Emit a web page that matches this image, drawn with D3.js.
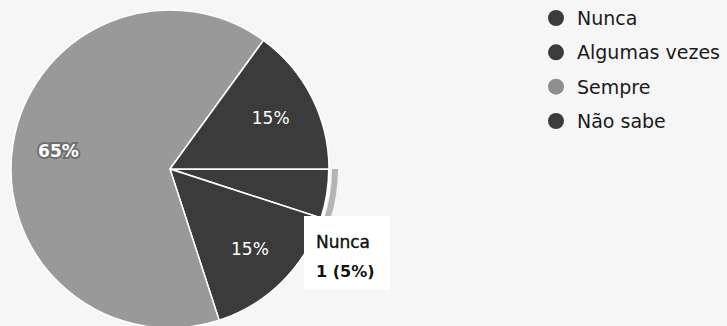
<!DOCTYPE html>
<html>
<head>
<meta charset="utf-8">
<script src="https://cdn.jsdelivr.net/npm/d3@7"></script>
<style>
  html, body { margin: 0; padding: 0; background: #f6f6f6; }
  svg { display: block; }
</style>
</head>
<body>
<svg id="chart" width="727" height="326"></svg>
<script>
const categories = ["Nunca", "Algumas vezes", "Sempre", "Não sabe"];
const counts = [1, 3, 13, 3];
const sliceColors = ["#3b3b3b", "#3b3b3b", "#999999", "#3b3b3b"];
const legendColors = ["#3b3b3b", "#3b3b3b", "#8e8e8e", "#3b3b3b"];
const selectedIndex = 0;

const svg = d3.select("#chart");
const W = 727, H = 326;
svg.append("rect").attr("width", W).attr("height", H).attr("fill", "#f6f6f6");

const cx = 170, cy = 169, R = 159;
const total = d3.sum(counts);
const data = categories.map((c, i) => ({ name: c, value: counts[i], color: sliceColors[i], i }));

const pie = d3.pie().sort(null).value(d => d.value)
  .startAngle(Math.PI / 2).endAngle(Math.PI / 2 + 2 * Math.PI);
const arcs = pie(data);
const arc = d3.arc().innerRadius(0).outerRadius(R);
const labelArc = d3.arc().innerRadius(113).outerRadius(113);
const ringArc = d3.arc().innerRadius(R + 3).outerRadius(R + 9);

const g = svg.append("g").attr("transform", `translate(${cx},${cy})`);

g.selectAll("path.slice").data(arcs).enter().append("path")
  .attr("class", "slice")
  .attr("d", arc)
  .attr("fill", d => d.data.color)
  .attr("stroke", "#ffffff")
  .attr("stroke-width", d => d.data.i === selectedIndex ? 2 : 1.5)
  .attr("stroke-linejoin", "round");

// hover ring around selected slice
g.append("path")
  .datum(arcs[selectedIndex])
  .attr("d", ringArc)
  .attr("fill", "#b4b4b4");

// percentage labels
const fmt = d3.format(".0%");
g.selectAll("text.pct").data(arcs.filter(d => d.value / total >= 0.1)).enter().append("text")
  .attr("class", "pct")
  .attr("transform", d => `translate(${labelArc.centroid(d)})`)
  .attr("text-anchor", "middle")
  .attr("dy", "0.36em")
  .attr("font-family", "DejaVu Sans, Verdana, sans-serif")
  .attr("font-size", 17)
  .attr("font-weight", d => d.data.color === "#999999" ? "bold" : "normal")
  .attr("fill", "#ffffff")
  .attr("stroke", d => d.data.color === "#999999" ? "#6e6e6e" : "none")
  .attr("stroke-width", 4)
  .attr("paint-order", "stroke")
  .text(d => fmt(d.value / total));

// legend
const legend = svg.append("g").attr("transform", "translate(556,18)");
const rowY = d3.scalePoint().domain(categories).range([0, 103]);
const items = legend.selectAll("g.item").data(data).enter().append("g")
  .attr("class", "item")
  .attr("transform", d => `translate(0,${rowY(d.name)})`);
items.append("circle").attr("r", 8).attr("fill", (d, i) => legendColors[i]);
items.append("text")
  .attr("x", 21)
  .attr("dy", "0.36em")
  .attr("font-family", "DejaVu Sans, Verdana, sans-serif")
  .attr("font-size", 19)
  .attr("fill", "#1a1a1a")
  .text(d => d.name);

// tooltip
const sel = data[selectedIndex];
const tip = svg.append("g").attr("transform", "translate(304,216)");
tip.append("rect").attr("width", 86).attr("height", 74).attr("fill", "#ffffff");
tip.append("text").attr("x", 12).attr("y", 32)
  .attr("font-family", "DejaVu Sans, Verdana, sans-serif")
  .attr("font-size", 17).attr("fill", "#111111")
  .attr("stroke", "#111111").attr("stroke-width", 0.4)
  .text(sel.name);
tip.append("text").attr("x", 12).attr("y", 61)
  .attr("font-family", "DejaVu Sans, Verdana, sans-serif")
  .attr("font-size", 16).attr("font-weight", "bold").attr("fill", "#111111")
  .text(`${sel.value} (${fmt(sel.value / total)})`);
</script>
</body>
</html>
